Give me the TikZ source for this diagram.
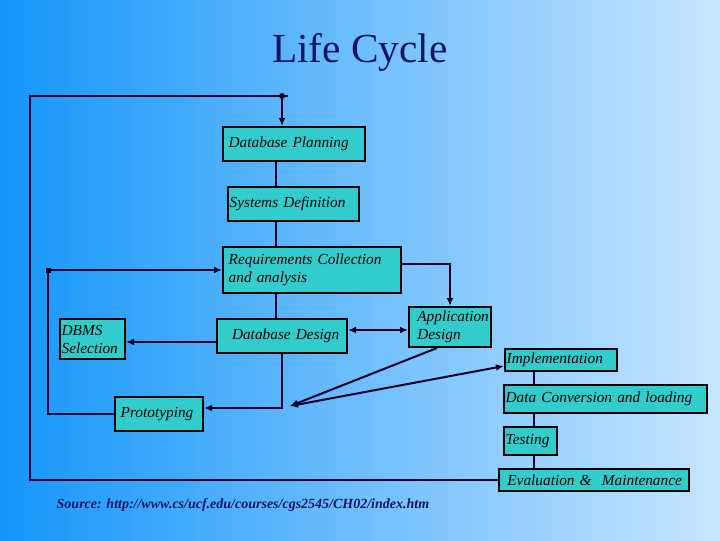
\documentclass[tikz,border=0pt]{standalone}
\usepackage{fontspec}
\setmainfont{Liberation Serif}
\usetikzlibrary{arrows.meta}
\definecolor{boxc}{RGB}{51,204,204}
\definecolor{navy}{RGB}{20,20,100}
\definecolor{bgA}{RGB}{20,150,250}
\definecolor{bgB}{RGB}{200,230,255}
\begin{document}
\begin{tikzpicture}[x=0.75pt,y=-0.75pt,>={Latex[length=6pt,width=5pt]},
  box/.style={draw=black,line width=1.4pt,fill=boxc,inner sep=1pt,font=\itshape\fontsize{11.5}{13.5}\selectfont,align=left},
  ln/.style={draw=black!85!blue,line width=1.5pt},
  arr/.style={ln,->}]
\shade[left color=bgA,right color=bgB] (0,0) rectangle (720,540);
\useasboundingbox (0,0) rectangle (720,540);
\node[navy,font=\fontsize{31}{34}\selectfont] (title) at (360,52) {Life Cycle};
\newcommand{\bx}[6]{\node[box,minimum width=#4*0.75pt-1.4pt,minimum height=#5*0.75pt-1.4pt,anchor=north west,text width=#4*0.75pt-4pt] (#1) at (#2,#3) {#6};}
\bx{dp}{222}{126}{144}{36}{\hspace{3pt}Database Planning}
\bx{sd}{227}{186}{133}{36}{Systems Definition}
\bx{rc}{222}{246}{180}{48}{\hspace{3pt}Requirements Collection\\\hspace{3pt}and analysis}
\bx{dd}{216}{318}{132}{36}{\hspace{10pt}Database Design}
\bx{dbms}{59}{318}{67}{42}{DBMS\\Selection}
\bx{ad}{408}{306}{84}{42}{\hspace{5pt}Application\\\hspace{5pt}Design}
\bx{pr}{114}{396}{90}{36}{\hspace{3pt}Prototyping}
\bx{im}{504}{348}{114}{24}{Implementation}
\bx{dc}{503}{384}{205}{30}{Data Conversion and loading}
\bx{te}{503}{426}{55}{30}{Testing}
\bx{ev}{498}{468}{192}{24}{\hspace{5pt}Evaluation \&\ \ Maintenance}
\coordinate (t1) at (282,96);
\coordinate (r1) at (48,270);
\coordinate (m) at (290,406);
\fill (t1) circle (2.2pt);
\fill (r1) ++(-2.5,-2.5) rectangle ++(5,5);
\draw[ln] (ev.west |- 0,480) -- (30,480) -- (30,96) -- (288,96);
\draw[arr] (t1) -- (dp.north -| t1);
\draw[ln] (dp.south -| 276,0) -- (sd.north -| 276,0);
\draw[ln] (sd.south -| 276,0) -- (rc.north -| 276,0);
\draw[ln] (rc.south -| 276,0) -- (dd.north -| 276,0);
\draw[arr] (r1) -- (rc.west |- r1);
\draw[ln] (r1) -- (48,414) -- (pr.west |- 0,414);
\draw[arr] (rc.east |- 0,264) -- (450,264) -- (ad.north -| 450,0);
\draw[ln,<->] (dd.east |- 0,330) -- (ad.west |- 0,330);
\draw[arr] (dd.west |- 0,342) -- (dbms.east |- 0,342);
\draw[arr] (dd.south -| 282,0) -- (282,408) -- (pr.east |- 0,408);
\draw[arr] (ad.south -| 437,0) -- (m);
\draw[ln,<->] (m) -- (im.west |- 0,366);
\draw[ln] (im.south -| 534,0) -- (dc.north -| 534,0);
\draw[ln] (dc.south -| 534,0) -- (te.north -| 534,0);
\draw[ln] (te.south -| 534,0) -- (ev.north -| 534,0);
\node[navy,font=\itshape\bfseries\fontsize{10.5}{12}\selectfont,anchor=west] (src) at (52,505) {Source: http://www.cs/ucf.edu/courses/cgs2545/CH02/index.htm};
\end{tikzpicture}
\end{document}
